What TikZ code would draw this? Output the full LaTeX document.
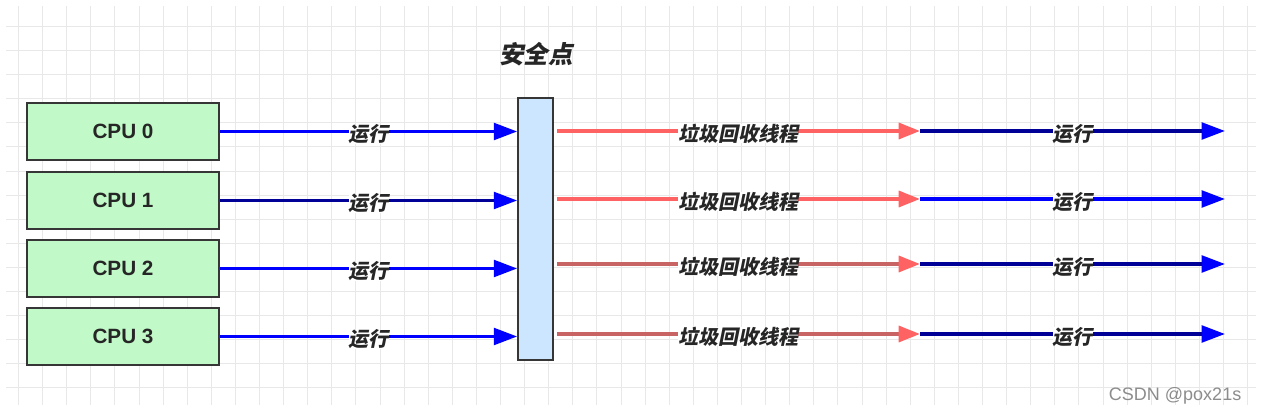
\documentclass[tikz,border=0pt]{standalone}
\usepackage{fontspec}
\setmainfont{Liberation Sans}
\newfontfamily\cjk[FakeSlant=0.2]{Noto Sans CJK SC}
\usetikzlibrary{arrows.meta,calc}
\definecolor{cpugreen}{RGB}{193,250,200}
\definecolor{safeblue}{RGB}{204,230,255}
\definecolor{runblue}{RGB}{0,0,255}
\definecolor{darkrun}{RGB}{0,0,150}
\definecolor{gcred}{RGB}{255,98,98}
\definecolor{gcdull}{RGB}{200,100,100}
\definecolor{gridgray}{RGB}{232,232,232}
\definecolor{edgegray}{RGB}{54,54,54}
\tikzset{
  cpubox/.style={draw=edgegray,line width=1.6pt,fill=cpugreen,minimum width=144pt,
    minimum height=42.75pt,inner sep=0pt,text=black!85,
    font=\fontsize{15.5}{18}\selectfont\bfseries},
  safebar/.style={draw=edgegray,line width=1.5pt,fill=safeblue,minimum width=26pt,
    minimum height=196pt,inner sep=0pt},
  flow/.style={line width=2.5pt},
  lbl/.style={fill=white,inner sep=0pt,yshift=-2pt,text=black!85,
    font=\cjk\bfseries\fontsize{15}{18}\selectfont},
  bluetip/.style={-{Triangle[length=17.5pt,width=12.5pt,color=runblue]}},
  redtip/.style={-{Triangle[length=16pt,width=12pt,color=gcred]}}
}

\begin{document}
\begin{tikzpicture}[x=0.75pt,y=-0.75pt]
  \useasboundingbox (0,0) rectangle (1261,416);
  \foreach \gx in {18.5,42.6,...,1258} {
    \draw[gridgray,line width=0.75pt] (\gx,6) -- (\gx,405);}
  \foreach \gy in {26.5,50.6,...,405} {
    \draw[gridgray,line width=0.75pt] (6,\gy) -- (1256,\gy);}

  \node[safebar] (safe) at (535.5,229) {};
  \node[text=black!85,font=\cjk\bfseries\fontsize{18.4}{22}\selectfont] (safetitle) at (536,54) {安全点};

  \foreach \i/\y/\lc in {0/131.5/runblue,1/200.5/darkrun,2/268.5/runblue,3/336.5/runblue} {
    \node[cpubox] (cpu\i) at (123,\y) {CPU \i};
    \draw[flow,\lc,bluetip] (cpu\i.east) -- (cpu\i.east -| safe.west) node[midway,lbl]{运行};}

  \foreach \i/\y/\gc/\rc in {0/131/gcred/darkrun,1/199/gcred/runblue,2/264/gcdull/darkrun,3/334/gcdull/darkrun} {
    \coordinate (gc\i) at (920,\y);
    \coordinate (run\i) at (1225,\y);
    \draw[flow,\gc,redtip] ($(safe.east |- gc\i)+(3,0)$) -- (gc\i) node[midway,lbl]{垃圾回收线程};
    \draw[flow,\rc,bluetip] (gc\i) -- (run\i) node[midway,lbl]{运行};}

  \node[anchor=east,text=black!45,font=\fontsize{13.5}{16}\selectfont] (mark) at (1246,396) {CSDN @pox21s};
\end{tikzpicture}
\end{document}
